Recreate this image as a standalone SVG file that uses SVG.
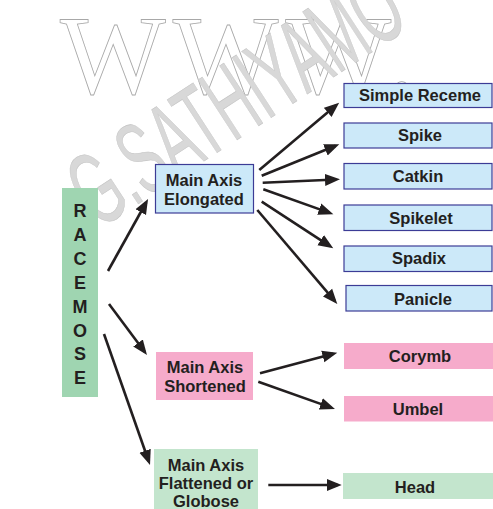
<svg xmlns="http://www.w3.org/2000/svg" width="493" height="509" viewBox="0 0 493 509">
<style>
.t{font-family:"Liberation Sans",Arial,sans-serif;font-weight:bold;font-size:16.5px;fill:#231f20;text-anchor:middle}
.r{font-size:18px}
.blue{fill:#cce9f9;stroke:#3c3c96;stroke-width:1.2}
.pink{fill:#f6abcb}
.green{fill:#9fd5b1}
.lgreen{fill:#c3e5cd}
.wm1{font-family:"Liberation Serif","Times New Roman",serif;font-size:112px;fill:none;stroke:#a8a8a8;stroke-width:0.8;letter-spacing:7px}
.wm2{font-family:"Liberation Sans",Arial,sans-serif;font-size:104px;fill:#d8d8d8;stroke:#c4c4c4;stroke-width:0.6}
#connectors line{stroke:#231f20;stroke-width:2.6;marker-end:url(#ah)}
</style>
<defs>
<marker id="ah" markerUnits="userSpaceOnUse" markerWidth="16" markerHeight="13" viewBox="0 0 16 13" refX="11" refY="6.5" orient="auto">
<path d="M0,0.5 L15,6.5 L0,12.5 z" fill="#231f20"/>
</marker>
</defs>
<rect width="493" height="509" fill="#ffffff"/>
<g id="watermark">
<text class="wm1" x="60" y="93">WWW.</text>
<text class="wm2" transform="translate(98,230) rotate(-33) scale(0.53,1)">G.SATHIYAMO</text>
</g>
<g id="racemose">
<rect class="green" x="62" y="188" width="36" height="209"/>
<text class="t r" x="80" y="217">R</text>
<text class="t r" x="80" y="241">A</text>
<text class="t r" x="80" y="265">C</text>
<text class="t r" x="80" y="289">E</text>
<text class="t r" x="80" y="313">M</text>
<text class="t r" x="80" y="337">O</text>
<text class="t r" x="80" y="360">S</text>
<text class="t r" x="80" y="384">E</text>
</g>
<g id="elongated">
<rect class="blue" x="155.5" y="164.5" width="98" height="48.5"/>
<text class="t" x="204" y="186">Main Axis</text>
<text class="t" x="204" y="204.5">Elongated</text>
</g>
<g id="shortened">
<rect class="pink" x="156" y="352" width="97" height="48"/>
<text class="t" x="205" y="373">Main Axis</text>
<text class="t" x="205" y="392">Shortened</text>
</g>
<g id="flattened">
<rect class="lgreen" x="154" y="449" width="104" height="62"/>
<text class="t" x="206" y="470.5">Main Axis</text>
<text class="t" x="206" y="489">Flattened or</text>
<text class="t" x="206" y="507">Globose</text>
</g>
<g id="simple-raceme">
<rect class="blue" x="344" y="83.5" width="148" height="24"/>
<text class="t" x="420" y="101">Simple Receme</text>
</g>
<g id="spike">
<rect class="blue" x="344" y="123" width="148" height="25"/>
<text class="t" x="420" y="140.5">Spike</text>
</g>
<g id="catkin">
<rect class="blue" x="344" y="163.5" width="148" height="25.5"/>
<text class="t" x="418" y="182">Catkin</text>
</g>
<g id="spikelet">
<rect class="blue" x="344" y="205" width="148" height="25.5"/>
<text class="t" x="421" y="223.5">Spikelet</text>
</g>
<g id="spadix">
<rect class="blue" x="344" y="246" width="148" height="25.5"/>
<text class="t" x="419" y="264">Spadix</text>
</g>
<g id="panicle">
<rect class="blue" x="346" y="285.5" width="146" height="25.5"/>
<text class="t" x="423" y="304.5">Panicle</text>
</g>
<g id="corymb">
<rect class="pink" x="344" y="343" width="149" height="26"/>
<text class="t" x="420" y="361.5">Corymb</text>
</g>
<g id="umbel">
<rect class="pink" x="344" y="396" width="149" height="25.5"/>
<text class="t" x="418" y="415">Umbel</text>
</g>
<g id="head">
<rect class="lgreen" x="343" y="473" width="150" height="26"/>
<text class="t" x="415" y="493">Head</text>
</g>
<g id="connectors">
<line x1="108" y1="271" x2="146.1" y2="202.5"/>
<line x1="109" y1="304" x2="144.6" y2="351.8"/>
<line x1="104" y1="334" x2="148.7" y2="461.2"/>
<line x1="259.3" y1="170" x2="336.1" y2="105.3"/>
<line x1="261.7" y1="175.7" x2="335.6" y2="145.7"/>
<line x1="262.7" y1="182.7" x2="336" y2="179.5"/>
<line x1="263.3" y1="189.3" x2="329.6" y2="212.9"/>
<line x1="261.7" y1="201.7" x2="329.9" y2="246.1"/>
<line x1="257.3" y1="210" x2="334.7" y2="300.9"/>
<line x1="260" y1="373.3" x2="333.4" y2="353.7"/>
<line x1="258.3" y1="381.7" x2="331.2" y2="407.6"/>
<line x1="268.3" y1="485" x2="337.7" y2="485"/>
</g>
</svg>
